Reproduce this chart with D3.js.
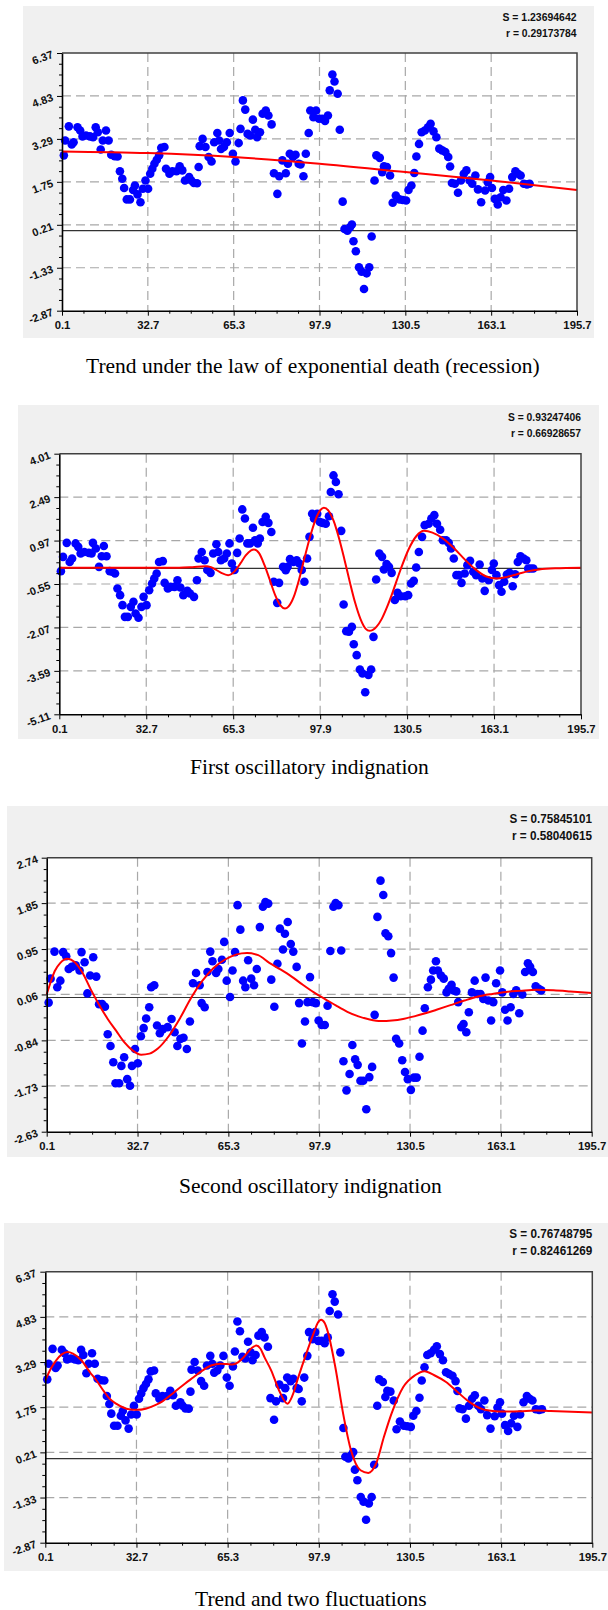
<!DOCTYPE html>
<html><head><meta charset="utf-8">
<script src="https://cdn.jsdelivr.net/npm/d3@7"></script>
<style>html,body{margin:0;padding:0;background:#fff;} svg{display:block;}</style>
</head><body>
<svg id="c" width="608" height="1610"></svg>
<script>
// ---------- DATA ----------
// observed series (charts 1 and 4)
const obsX = [0.8,1.3,2.7,3.8,4.5,6.0,7.0,7.9,9.2,10.7,11.9,12.9,13.7,14.8,15.6,16.8,17.8,18.8,20.1,21.2,22.1,23.0,23.7,24.7,25.9,27.1,27.8,28.8,29.9,30.8,31.8,32.8,33.6,34.4,35.2,36.1,37.0,37.8,39.0,39.6,40.9,42.0,43.6,44.8,45.8,46.8,48.4,49.2,50.2,51.4,52.0,52.4,53.5,54.6,55.8,56.9,57.9,59.1,59.8,60.5,61.6,62.7,63.8,65.0,66.0,67.2,67.9,68.8,69.7,70.6,71.6,72.6,73.5,74.2,75.3,76.3,77.5,78.5,79.7,80.6,81.9,82.6,83.8,85.1,85.9,86.6,87.8,88.8,90.0,90.7,91.8,92.7,93.8,94.4,95.6,96.6,97.7,98.9,100.0,101.1,101.8,102.8,103.6,104.8,105.6,106.7,107.4,108.5,109.5,110.2,110.8,111.7,112.9,113.9,114.8,115.8,116.8,117.7,118.8,119.5,120.8,121.7,122.4,123.5,124.7,125.7,126.9,128.3,129.5,130.8,131.7,132.8,133.9,134.7,135.7,136.7,137.9,139.1,140.1,141.2,142.3,143.4,144.5,145.7,146.8,147.5,148.2,149.3,150.5,151.6,152.7,153.7,154.9,155.9,157.1,158.1,159.3,160.8,161.8,162.7,163.4,164.5,165.6,166.7,167.7,168.9,169.9,171.1,172.3,173.3,174.3,175.5,176.7,177.7];
const obsY = [2.70,3.23,3.74,3.09,3.17,3.71,3.59,3.38,3.41,3.38,3.35,3.71,3.53,2.91,3.23,3.59,3.23,2.72,2.67,2.66,2.13,1.86,1.53,1.12,1.12,1.46,1.62,1.30,1.02,1.50,1.80,1.50,2.04,2.22,2.40,2.54,2.70,2.97,3.00,2.22,2.04,2.13,2.13,2.31,2.16,1.80,1.92,1.80,1.71,1.70,2.28,3.03,3.29,3.00,2.64,2.48,3.17,3.50,3.23,2.93,3.00,3.17,3.50,2.76,2.48,3.14,3.65,4.67,4.34,3.47,3.41,3.98,3.62,3.35,3.53,4.19,4.31,4.13,3.81,2.06,1.32,1.95,2.52,2.06,2.40,2.76,2.64,2.72,2.40,2.37,1.95,2.76,3.50,4.31,4.07,4.31,4.01,4.01,3.93,4.13,5.03,5.60,5.35,4.91,3.62,1.04,0.06,0.00,0.12,0.22,-0.38,-0.74,-1.31,-1.47,-2.09,-1.53,-1.31,-0.21,1.80,2.70,2.61,2.10,2.31,2.28,1.98,1.00,1.26,1.12,1.10,1.08,1.46,1.62,2.07,2.66,3.11,3.53,3.59,3.71,3.83,3.56,3.35,2.94,2.88,2.82,2.64,2.30,1.71,1.68,1.36,1.80,2.04,2.16,1.80,1.68,1.98,1.48,1.02,1.44,1.74,1.92,1.53,1.14,0.94,1.20,1.46,1.08,1.50,1.92,2.13,2.04,1.98,1.68,1.66,1.68];

// residuals after trend (chart 2)
const res1X = [0.7,1.5,2.9,4.0,4.9,6.2,7.2,8.1,9.5,11.2,12.2,12.7,13.8,15.0,16.0,16.8,17.8,19.0,20.0,21.0,21.9,22.9,23.8,24.7,25.8,26.9,27.9,28.7,29.8,30.9,31.7,32.8,33.8,34.9,35.7,36.6,37.5,38.9,39.6,40.8,41.8,43.3,44.4,45.5,46.6,48.1,49.1,50.6,51.7,52.3,53.5,54.6,55.6,56.8,57.8,59.0,59.7,60.7,61.9,62.9,63.9,64.8,65.8,66.8,67.7,68.7,69.7,70.6,71.6,72.7,73.5,74.5,75.3,76.3,77.5,78.5,79.6,80.5,81.8,82.5,84.0,85.0,85.7,86.6,87.9,89.1,90.1,91.0,92.0,93.0,93.9,94.9,95.6,96.8,97.8,98.8,100.0,101.2,101.9,102.9,103.8,104.8,105.8,106.7,107.7,108.7,109.8,110.5,111.6,112.8,113.8,114.8,116.0,117.0,117.9,118.9,120.1,121.1,121.8,122.8,123.7,124.7,125.9,126.9,128.1,129.8,130.9,132.0,133.0,133.9,134.9,136.1,137.1,138.6,139.6,140.7,141.7,142.9,143.9,145.1,146.1,147.0,148.0,149.0,149.9,150.9,152.1,153.1,154.1,155.3,156.4,157.7,158.7,159.6,161.1,162.3,163.0,164.0,165.0,165.9,166.9,167.9,168.9,170.1,171.0,172.0,173.0,174.2,175.2,175.9,176.8,177.8];
const res1Y = [-0.10,0.40,0.89,0.22,0.34,0.87,0.75,0.52,0.57,0.54,0.52,0.89,0.69,0.05,0.42,0.78,0.42,-0.10,-0.12,-0.18,-0.71,-0.94,-1.29,-1.70,-1.70,-1.35,-1.17,-1.58,-1.73,-1.35,-1.00,-1.29,-0.77,-0.53,-0.36,-0.18,0.22,0.25,-0.51,-0.71,-0.65,-0.65,-0.42,-0.67,-0.94,-0.79,-0.88,-1.00,-0.42,0.34,0.57,0.28,-0.06,-0.16,0.52,0.84,0.57,0.28,0.34,0.52,0.87,0.17,-0.06,0.54,1.04,2.06,1.74,0.87,0.87,1.42,0.98,0.87,1.04,1.62,1.80,1.59,1.27,-0.47,-1.21,-0.51,0.05,-0.07,0.05,0.32,0.22,0.28,0.17,-0.06,-0.47,0.34,1.10,1.91,1.74,1.91,1.62,1.59,1.56,1.82,2.67,3.25,3.02,2.59,1.31,-1.27,-2.20,-2.22,-2.05,-2.66,-3.04,-3.54,-3.68,-4.34,-3.73,-3.54,-2.40,-0.39,0.52,0.40,-0.04,0.15,0.05,-0.16,-1.11,-0.86,-0.98,-0.98,-0.94,-0.53,-0.44,0.03,0.57,1.10,1.51,1.56,1.74,1.86,1.56,1.35,0.98,0.98,0.89,0.69,0.34,-0.24,-0.24,-0.51,-0.18,0.11,0.26,-0.12,-0.24,0.13,-0.36,-0.79,-0.42,-0.06,0.17,-0.24,-0.59,-0.82,-0.47,-0.22,-0.16,-0.63,-0.21,0.22,0.42,0.34,0.28,-0.01,-0.01,-0.01];

// residuals after trend and first oscillation (chart 3)
const res2X = [0.8,1.5,2.9,3.9,5.0,6.0,7.1,8.0,9.1,10.5,11.9,12.6,13.7,14.7,15.7,16.8,17.9,18.9,20.0,21.0,22.0,23.0,24.0,24.8,26.1,26.9,27.9,29.0,30.0,30.7,31.8,32.8,33.9,34.9,35.8,36.9,37.6,38.7,39.7,40.7,41.8,43.5,44.9,46.0,47.0,48.1,49.2,50.4,51.5,52.6,53.7,55.0,55.7,56.8,57.8,58.8,59.6,60.9,61.7,63.0,63.8,64.7,65.9,66.8,67.7,68.6,69.6,70.6,71.4,72.4,73.5,74.5,75.5,76.6,77.7,78.6,79.6,80.7,81.8,82.9,83.8,84.9,85.6,86.6,87.7,88.6,89.8,90.7,91.7,92.8,93.7,94.6,95.6,96.7,97.7,98.8,99.9,100.9,101.9,103.0,103.8,104.8,105.8,106.6,107.7,108.8,109.8,110.8,111.7,112.7,113.7,114.8,115.9,116.9,117.8,118.8,119.9,120.9,121.7,122.7,123.7,124.6,125.5,126.6,127.7,128.7,129.7,130.8,131.9,132.9,133.9,135.0,135.8,136.9,138.0,138.8,139.8,140.5,141.6,142.6,143.6,144.4,145.4,146.1,147.1,147.8,148.9,149.7,150.7,151.6,152.7,153.7,154.7,155.8,156.8,157.6,158.6,159.6,160.4,161.4,162.8,163.6,164.6,165.5,166.6,167.6,168.6,169.7,170.8,171.8,172.8,173.6,174.6,175.6,176.7,177.6];
const res2Y = [-0.10,0.37,0.90,0.20,0.33,0.89,0.81,0.56,0.60,0.63,0.53,0.89,0.69,0.08,0.43,0.79,0.41,-0.13,-0.13,-0.18,-0.72,-0.95,-1.27,-1.68,-1.68,-1.34,-1.17,-1.60,-1.73,-1.34,-1.01,-1.29,-0.76,-0.60,-0.41,-0.19,0.20,0.24,-0.55,-0.70,-0.62,-0.58,-0.42,-0.68,-0.95,-0.81,-0.79,-1.01,-0.47,0.28,0.48,0.24,-0.11,-0.19,0.50,0.90,0.71,0.48,0.56,0.74,1.09,0.33,0.01,0.53,0.89,1.81,1.33,0.33,0.20,0.73,0.37,0.24,0.56,1.38,1.78,1.87,1.84,0.35,-0.18,0.66,1.35,0.94,1.25,1.48,1.05,0.90,0.60,-0.11,-0.90,-0.47,-0.09,0.40,-0.09,-0.11,-0.45,-0.54,-0.54,-0.16,0.91,1.78,1.85,1.81,0.92,-1.25,-1.82,-1.50,-0.93,-1.21,-1.32,-1.63,-1.63,-2.19,-1.56,-1.36,-0.34,1.58,2.29,2.01,1.26,1.20,0.87,0.39,-0.81,-0.90,-1.23,-1.46,-1.60,-1.81,-1.57,-1.57,-1.16,-0.65,-0.21,0.20,0.35,0.53,0.71,0.53,0.43,0.37,0.10,0.17,0.25,0.14,0.12,-0.09,-0.58,-0.52,-0.68,-0.29,0.10,0.33,0.07,0.07,-0.03,0.39,-0.06,-0.45,-0.09,0.28,0.53,0.10,-0.24,-0.45,-0.19,0.07,0.14,-0.31,0.06,0.50,0.67,0.60,0.50,0.22,0.17,0.14];

// fitted curves (red lines)
const trendX = [0.1,32.7,65.3,97.9,130.5,163.1,195.7];
const trendY = [2.84,2.78,2.64,2.40,2.10,1.80,1.46];
const osc1X = [0.1,45,50,54.9,57,59,61,63.4,66,68,70,72,73.1,75,77,79,81,83,84.7,86,88,90,92,94,96,98,99.3,101,103,105,107,109,111,113,115,116.4,119,121,123,125,128,131,134,136.8,140,144,148,152,156,160,164,168,172,176,180,186,195.7];
const osc1Y = [0.02,0.02,0.04,0.07,0.04,-0.06,-0.17,-0.24,-0.09,0.17,0.45,0.63,0.66,0.53,0.12,-0.40,-0.93,-1.30,-1.41,-1.34,-1.0,-0.39,0.35,1.06,1.66,2.04,2.12,2.02,1.65,1.04,0.31,-0.47,-1.20,-1.77,-2.12,-2.19,-2.05,-1.77,-1.35,-0.86,-0.06,0.65,1.13,1.31,1.25,1.04,0.71,0.32,-0.03,-0.28,-0.36,-0.30,-0.20,-0.10,-0.04,0.00,0.02];
const osc2X = [0.1,1.5,3,5,7.5,10,13,16,19,22,25,28,31,34,37,40,44,48,52,56,60,64,68,72,76,80,84,88,92,96,100,104,108,112,116,120,124,128,132,136,140,145,150,155,160,165,170,176,182,188,195.7];
const osc2Y = [0.06,0.30,0.52,0.68,0.76,0.70,0.48,0.15,-0.15,-0.42,-0.65,-0.88,-1.04,-1.12,-1.10,-1.0,-0.75,-0.40,0.0,0.33,0.58,0.74,0.84,0.87,0.83,0.68,0.55,0.41,0.25,0.10,-0.03,-0.16,-0.28,-0.37,-0.43,-0.46,-0.45,-0.42,-0.37,-0.31,-0.24,-0.15,-0.06,0.02,0.07,0.11,0.13,0.15,0.14,0.12,0.09];
const modelX = [0.1,2,4,6,8,10,13,16,18.4,21,23,25.4,28,30,33,36,39.2,42,46.2,50,53.1,56,59.4,62.8,65,67,69,70.5,72.5,74,75.6,77,78.5,80.9,83.7,86.7,88.5,90.5,93.4,96.2,97.5,98.7,100,101,103.8,106.6,109.4,112.8,115.6,118.4,121.2,123.9,128.1,132.3,135.7,139.2,143.4,147.5,151.7,155.9,160.1,164.2,169.8,175.3,180.8,195.7];
const modelY = [2.66,3.05,3.35,3.55,3.63,3.58,3.35,2.95,2.66,2.30,2.05,1.87,1.74,1.68,1.66,1.70,1.81,1.95,2.26,2.55,2.77,2.98,3.17,3.23,3.22,3.21,3.28,3.40,3.62,3.78,3.85,3.75,3.45,3.00,2.32,1.87,2.15,2.75,3.57,4.31,4.62,4.73,4.62,4.36,3.12,1.53,0.28,-0.40,-0.49,-0.17,0.74,1.53,2.44,2.84,2.98,2.84,2.61,2.27,1.93,1.70,1.62,1.60,1.61,1.64,1.62,1.57];

// tick labels
const xTicks = [0.1,32.7,65.3,97.9,130.5,163.1,195.7];
const yTicksA = [6.37,4.83,3.29,1.75,0.21,-1.33,-2.87];
const yTicksB = [4.01,2.49,0.97,-0.55,-2.07,-3.59,-5.11];
const yTicksC = [2.74,1.85,0.95,0.06,-0.84,-1.73,-2.63];

// texts
const titles = ["Trend under the law of exponential death (recession)","First oscillatory indignation","Second oscillatory indignation","Trend and two fluctuations"];
const statS = ["S = 1.23694642","S = 0.93247406","S = 0.75845101","S = 0.76748795"];
const statR = ["r = 0.29173784","r = 0.66928657","r = 0.58040615","r = 0.82461269"];

// ---------- LAYOUT ----------
const layouts = [
  {panel:[23,6,594,338], plot:[62,53,577,310.7], statRight:576.5, statY:[20.5,37], statFs:11, statW:[74,70.5], titleX:86, titleY:373},
  {panel:[18,405,599,739], plot:[59.3,453.7,581,714.3], statRight:581, statY:[421,437], statFs:11, statW:[73,70], titleX:190, titleY:774},
  {panel:[7,806,608,1157], plot:[46.7,857.7,591.7,1131.7], statRight:592, statY:[822.5,840], statFs:12, statW:[82.5,80], titleX:179, titleY:1192.7},
  {panel:[4,1223,608,1571], plot:[45.3,1271.7,592.3,1542.7], statRight:592.3, statY:[1237.5,1255], statFs:12, statW:[83,80], titleX:195, titleY:1606}
];

const sets = [
  {xs:obsX, ys:obsY, fx:trendX, fy:trendY, yt:yTicksA},
  {xs:res1X, ys:res1Y, fx:osc1X, fy:osc1Y, yt:yTicksB},
  {xs:res2X, ys:res2Y, fx:osc2X, fy:osc2Y, yt:yTicksC},
  {xs:obsX, ys:obsY, fx:modelX, fy:modelY, yt:yTicksA}
];

const svg = d3.select("#c");
const tickFont = "'Liberation Sans', Arial, sans-serif";

function minors(arr){
  const m=[];
  for(let k=0;k<arr.length-1;k++){
    const a=arr[k], b=arr[k+1];
    for(let j=1;j<4;j++) m.push(a+(b-a)*j/4);
  }
  return m;
}

sets.forEach((s,i)=>{
  const L = layouts[i];
  const g = svg.append("g");
  g.append("rect").attr("x",L.panel[0]).attr("y",L.panel[1])
    .attr("width",L.panel[2]-L.panel[0]).attr("height",L.panel[3]-L.panel[1]).attr("fill","#f0f0f0");
  const [l,t,r,b] = L.plot;
  g.append("rect").attr("x",l).attr("y",t).attr("width",r-l).attr("height",b-t).attr("fill","#fff");

  const x = d3.scaleLinear().domain([xTicks[0], xTicks[xTicks.length-1]]).range([l,r]);
  const yt = s.yt;
  const y = d3.scaleLinear().domain([yt[yt.length-1], yt[0]]).range([b,t]);

  // grid
  g.selectAll(null).data(yt.slice(1,-1)).join("line")
    .attr("x1",l).attr("x2",r).attr("y1",d=>y(d)).attr("y2",d=>y(d))
    .attr("stroke","#a8a8a8").attr("stroke-width",1.2).attr("stroke-dasharray","9,5");
  g.selectAll(null).data(xTicks.slice(1,-1)).join("line")
    .attr("y1",t).attr("y2",b).attr("x1",d=>x(d)).attr("x2",d=>x(d))
    .attr("stroke","#a8a8a8").attr("stroke-width",1.2).attr("stroke-dasharray","9,5");

  // zero line
  g.append("line").attr("x1",l).attr("x2",r).attr("y1",y(0)).attr("y2",y(0))
    .attr("stroke","#333").attr("stroke-width",1.2);

  // points
  g.selectAll(null).data(d3.zip(s.xs,s.ys)).join("circle")
    .attr("cx",d=>x(d[0])).attr("cy",d=>y(d[1])).attr("r",4.3).attr("fill","#0000ff");

  // fitted curve
  const line = d3.line().x(d=>x(d[0])).y(d=>y(d[1])).curve(d3.curveMonotoneX);
  g.append("path").attr("d",line(d3.zip(s.fx,s.fy))).attr("fill","none")
    .attr("stroke","#ff0000").attr("stroke-width",2);

  // frame (top, right)
  g.append("path").attr("d",`M${l},${t}H${r}V${b}`).attr("fill","none").attr("stroke","#404040").attr("stroke-width",1.5);

  // x axis
  const ax = g.append("g").attr("transform",`translate(0,${b})`)
    .call(d3.axisBottom(x).tickValues(xTicks).tickSize(5).tickSizeOuter(0).tickFormat(d=>d.toFixed(1)));
  ax.select(".domain").attr("stroke","#000").attr("stroke-width",1.6);
  ax.selectAll(".tick line").attr("stroke","#000");
  ax.selectAll("text").attr("y",18.5).attr("dy",null)
    .attr("font-family",tickFont).attr("font-weight","bold").attr("font-size","11.3px").attr("fill","#111");
  const axm = g.append("g").attr("transform",`translate(0,${b})`)
    .call(d3.axisBottom(x).tickValues(minors(xTicks)).tickSize(3).tickFormat(""));
  axm.select(".domain").remove();

  // y axis
  const ay = g.append("g").attr("transform",`translate(${l},0)`)
    .call(d3.axisLeft(y).tickValues(yt).tickSize(5).tickSizeOuter(0).tickFormat(d=>d.toFixed(2)));
  ay.select(".domain").attr("stroke","#000").attr("stroke-width",1.6);
  ay.selectAll(".tick line").attr("stroke","#000");
  ay.selectAll("text").attr("x",-8).attr("y",4).attr("dy",null).attr("text-anchor","end")
    .attr("transform","rotate(-20,-8,4)")
    .attr("font-family",tickFont).attr("font-weight","bold").attr("font-size","11px").attr("fill","#111");
  const aym = g.append("g").attr("transform",`translate(${l},0)`)
    .call(d3.axisLeft(y).tickValues(minors(yt)).tickSize(3).tickFormat(""));
  aym.select(".domain").remove();

  // stats
  [statS[i], statR[i]].forEach((txt,k)=>{
    g.append("text").attr("x",L.statRight).attr("y",L.statY[k]).attr("text-anchor","end")
      .attr("font-family",tickFont).attr("font-weight","bold").attr("font-size",L.statFs+"px")
      .attr("fill","#111").attr("textLength",L.statW[k]).attr("lengthAdjust","spacingAndGlyphs")
      .text(txt);
  });

  // title
  g.append("text").attr("x",L.titleX).attr("y",L.titleY)
    .attr("font-family","'Liberation Serif','Times New Roman',serif").attr("font-size","21.5px")
    .attr("fill","#000").text(titles[i]);
});
</script>
</body></html>
